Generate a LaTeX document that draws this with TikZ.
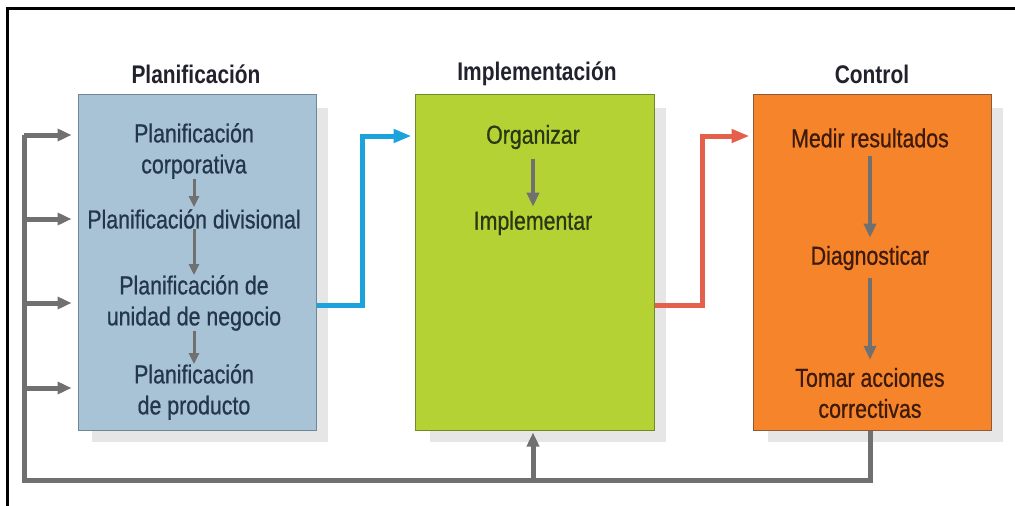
\documentclass[tikz,border=0pt]{standalone}
\usepackage{fontspec}
\setmainfont{Liberation Sans}[FakeStretch=0.82]
\newfontfamily\lblfont{Liberation Sans}[FakeStretch=0.82, FakeBold=0.7]
\usetikzlibrary{arrows.meta,calc}
\definecolor{blueF}{HTML}{A8C3D6}
\definecolor{greenF}{HTML}{B5D235}
\definecolor{orangeF}{HTML}{F5842B}
\definecolor{shadowC}{HTML}{E6E6E6}
\definecolor{grayA}{HTML}{707070}
\definecolor{cyanA}{HTML}{1CA3DC}
\definecolor{redA}{HTML}{E5604A}
\definecolor{blueT}{HTML}{24364A}
\definecolor{greenT}{HTML}{2A3812}
\definecolor{orangeT}{HTML}{3E1A0A}
\definecolor{titleT}{HTML}{22222E}
\definecolor{blueB}{HTML}{6F8797}
\definecolor{greenB}{HTML}{6E8A2A}
\definecolor{orangeB}{HTML}{8A5A3A}
\tikzset{
  panel/.style={draw, line width=1pt, minimum width=238pt, minimum height=336pt, inner sep=0pt},
  shade/.style={fill=shadowC, draw=none},
  title/.style={font=\fontsize{25.5}{30}\selectfont\bfseries, text=titleT, inner sep=0pt},
  label/.style={font=\lblfont\fontsize{26}{31}\selectfont, align=center, inner sep=0pt},
  smallarrow/.style={draw=grayA, line width=3pt, -{Triangle[length=11pt,width=10pt]}},
  bigarrow/.style={draw=grayA, line width=4pt, -{Triangle[length=14pt,width=12pt]}},
  loopline/.style={draw=grayA, line width=5pt},
  looparrow/.style={draw=grayA, line width=5pt, -{Triangle[length=14pt,width=12pt]}},
  flowarrow/.style={line width=5pt, -{Triangle[length=18pt,width=13pt]}},
}
\begin{document}
\begin{tikzpicture}[x=1pt,y=-1pt]
\useasboundingbox (0,0) rectangle (1015,506);
\fill[white] (0,0) rectangle (1015,506);
% frame
\draw[black, line width=3pt] (7,506) -- (7,8) -- (1015,8);
% shadows
\fill[shade] (92,108) rectangle (328,442);
\fill[shade] (430,108) rectangle (666,442);
\fill[shade] (768,108) rectangle (1003,442);
% panels
\node[panel, fill=blueF, draw=blueB] (pb) at (197,262) {};
\node[panel, fill=greenF, draw=greenB, minimum width=239pt] (pg) at (534.5,262) {};
\node[panel, fill=orangeF, draw=orangeB] (po) at (872,262) {};
% titles
\node[title] (tp) at (196,74) {Planificación};
\node[title] (ti) at (537,74) {Implementación};
\node[title] (tc) at (872,74) {Control};
% blue texts
\node[label, text=blueT] (b1) at (194,151) {Planificación\\corporativa};
\node[label, text=blueT] (b2) at (194,219) {Planificación divisional};
\node[label, text=blueT] (b3) at (194,303) {Planificación de\\unidad de negocio};
\node[label, text=blueT] (b4) at (194,392) {Planificación\\de producto};
\draw[smallarrow, shorten >=2pt] (b1.south) -- (b2.north);
\draw[smallarrow] (b2.south) -- (b3.north);
\draw[smallarrow] (b3.south) -- (b4.north);
% green texts
\node[label, text=greenT] (g1) at (533,137) {Organizar};
\node[label, text=greenT] (g2) at (533,223) {Implementar};
\draw[bigarrow, shorten <=10pt, shorten >=4pt] (g1.south) -- (g2.north);
% orange texts
\node[label, text=orangeT] (o1) at (870,138) {Medir resultados};
\node[label, text=orangeT] (o2) at (870,258) {Diagnosticar};
\node[label, text=orangeT] (o3) at (870,393) {Tomar acciones\\correctivas};
\draw[bigarrow, shorten <=8pt, shorten >=8pt] (o1.south) -- (o2.north);
\draw[bigarrow, shorten <=8pt, shorten >=8pt] (o2.south) -- (o3.north);
% flow arrows
\draw[flowarrow, draw=cyanA, shorten >=3pt] (pb.east |- 0,305) -- (362,305) |- (pg.west |- 0,136);
\draw[flowarrow, draw=redA, shorten >=3pt] (pg.east |- 0,305) -- (702,305) |- (po.west |- 0,136);
% feedback loop
\coordinate (f1) at (24,135);
\coordinate (f2) at (24,219);
\coordinate (f3) at (24,303);
\coordinate (f4) at (24,388);
\coordinate (fb) at (870,480);
\coordinate (fm) at (533,480);
\draw[loopline] (po.south -| fb) -- (fb) -| (f1);
\draw[looparrow, shorten >=6pt] (f1) -- (f1 -| pb.west);
\draw[looparrow, shorten >=6pt] (f2) -- (f2 -| pb.west);
\draw[looparrow, shorten >=6pt] (f3) -- (f3 -| pb.west);
\draw[looparrow, shorten >=6pt] (f4) -- (f4 -| pb.west);
\draw[looparrow, shorten >=2pt] (fm) -- (fm |- pg.south);
\end{tikzpicture}
\end{document}
